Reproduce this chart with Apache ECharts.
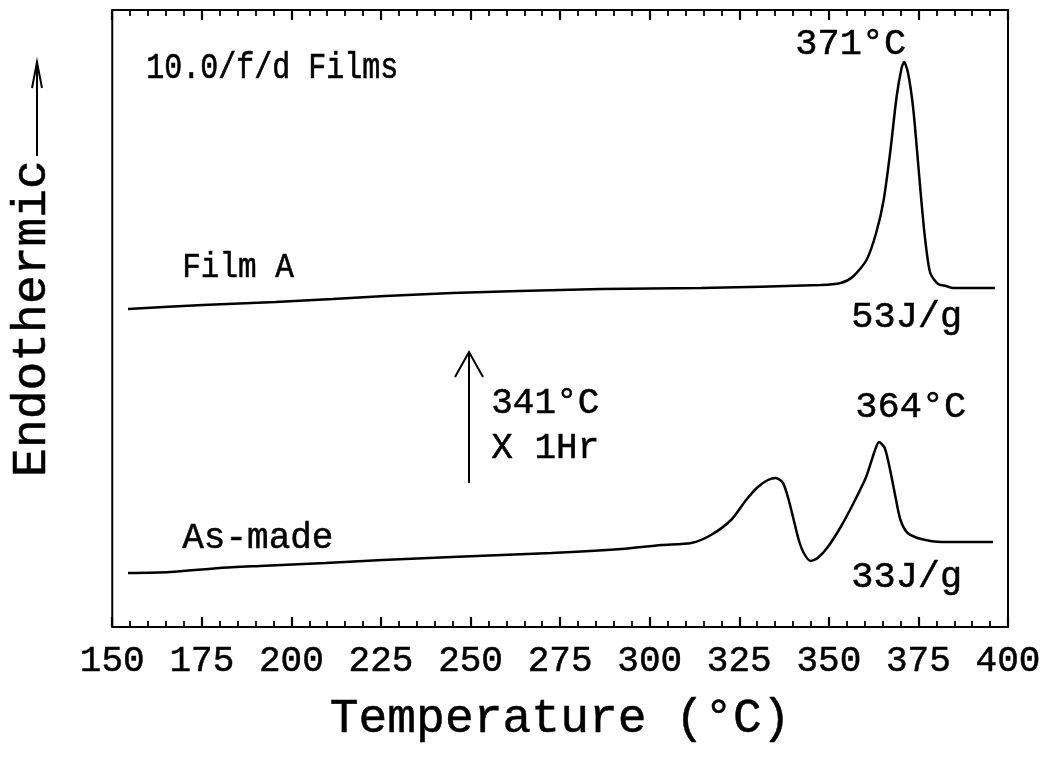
<!DOCTYPE html>
<html>
<head>
<meta charset="utf-8">
<style>
  html, body { margin: 0; padding: 0; background: #fff; }
  #chart { width: 1051px; height: 769px; }
</style>
<script src="https://cdn.jsdelivr.net/npm/echarts@6/dist/echarts.min.js"></script>
</head>
<body>
<div id="chart"></div>
<script>
// DSC traces, heat flow in arbitrary units (endothermic up)
const filmA_T = [154.4, 175.3, 195.6, 211.5, 226.2, 244.8, 263.5, 286.5, 314.3, 347.7, 353.3, 356.6,
  360.5, 363.2, 365.3, 367.2, 368.9, 370.3, 371.0, 372.1, 373.5, 374.6, 375.8, 376.9, 378.3,
  380.5, 382.7, 384.7, 388.3, 396.4];
const filmA_Q = [318, 322, 325, 328, 331, 334, 336, 338, 339, 342, 344, 350,
  367, 394, 427, 477, 530, 559, 565, 554, 520, 477, 427, 387, 354,
  343, 341, 339, 339, 339];

const asMade_T = [154.4, 166.1, 180.0, 191.2, 209.5, 225.4, 244.8, 272.6, 292.1, 303.2, 311.6,
  317.1, 322.7, 326.9, 330.2, 333.0, 335.2, 337.2, 338.8, 340.2, 341.6, 343.0, 344.9, 346.9,
  349.7, 353.3, 356.9, 360.4, 362.8, 364.0, 365.6, 367.1, 368.6, 370.0, 372.0, 375.8, 381.5, 395.8];
const asMade_Q = [54, 55, 59, 61, 64, 67, 70, 74, 78, 82, 84,
  92, 107, 127, 140, 147, 149, 144, 127, 107, 87, 74, 66, 69,
  80, 100, 124, 150, 176, 185, 179, 157, 130, 107, 94, 88, 85, 85];

const tempRange = [150, 400];
const tempStep = 25;
const xTitle = 'Temperature (°C)';
const yTitle = 'Endothermic';

const FONT = '"Liberation Mono", "DejaVu Sans Mono", monospace';

function pairs(xs, ys) { return xs.map((x, i) => [x, ys[i]]); }

const chart = echarts.init(document.getElementById('chart'), null, { renderer: 'canvas' });

// frame edge with inward major (every 25) and minor (every 5) ticks
const tickStyle = {
  axisLine: { show: true, onZero: false, lineStyle: { color: '#000', width: 2 } },
  axisTick: { show: true, inside: true, length: 10, lineStyle: { color: '#000', width: 2.2 } },
  minorTick: { show: true, splitNumber: 5, length: 6, lineStyle: { color: '#000', width: 1.8 } },
  splitLine: { show: false },
  minorSplitLine: { show: false }
};

// annotation text; sy stretches the glyphs vertically for a taller typewriter look
function txt(text, x, y, size, sy) {
  return {
    type: 'text', left: x, top: y, scaleY: sy || 1,
    style: {
      text: text, font: size + 'px ' + FONT, fill: '#000', textVerticalAlign: 'top',
      stroke: '#000', lineWidth: 0.5
    }
  };
}

chart.setOption({
  animation: false,
  backgroundColor: '#fff',
  grid: { left: 109, right: 43, top: 10, bottom: 142, containLabel: false },
  xAxis: [
    Object.assign({
      type: 'value', min: tempRange[0], max: tempRange[1], interval: tempStep,
      position: 'bottom',
      name: xTitle, nameLocation: 'middle', nameGap: 68,
      nameTextStyle: { fontFamily: FONT, fontSize: 48, color: '#000', textBorderColor: '#000', textBorderWidth: 0.5 },
      axisLabel: { show: true, margin: 16, fontFamily: FONT, fontSize: 36, color: '#000', textBorderColor: '#000', textBorderWidth: 0.5 }
    }, tickStyle),
    Object.assign({
      type: 'value', min: tempRange[0], max: tempRange[1], interval: tempStep,
      position: 'top', axisLabel: { show: false }
    }, tickStyle)
  ],
  yAxis: [
    {
      type: 'value', min: 0, max: 617, position: 'left',
      name: yTitle, nameLocation: 'middle', nameGap: 56, nameRotate: 90,
      nameTextStyle: { fontFamily: FONT, fontSize: 48, color: '#000', textBorderColor: '#000', textBorderWidth: 0.5 },
      axisLine: { show: true, onZero: false, lineStyle: { color: '#000', width: 2 } },
      axisTick: { show: false }, axisLabel: { show: false }, splitLine: { show: false }
    },
    {
      type: 'value', min: 0, max: 617, position: 'right',
      axisLine: { show: true, onZero: false, lineStyle: { color: '#000', width: 2 } },
      axisTick: { show: false }, axisLabel: { show: false }, splitLine: { show: false }
    }
  ],
  series: [
    {
      name: 'Film A', type: 'line', data: pairs(filmA_T, filmA_Q),
      smooth: 0.25, showSymbol: false, lineStyle: { color: '#000', width: 2.5 }
    },
    {
      name: 'As-made', type: 'line', data: pairs(asMade_T, asMade_Q),
      smooth: 0.25, showSymbol: false, lineStyle: { color: '#000', width: 2.5 }
    }
  ],
  graphic: [
    txt('10.0/f/d Films', 146, 49, 30, 1.25),
    txt('371°C', 795, 25, 37),
    txt('Film A', 182, 249, 31, 1.15),
    txt('53J/g', 851, 298, 37),
    txt('341°C', 491, 385, 36),
    txt('X 1Hr', 491, 430, 36),
    txt('364°C', 855, 388, 37),
    txt('33J/g', 851, 558, 37),
    txt('As-made', 182, 520, 36),
    // annealing arrow
    { type: 'line', shape: { x1: 469, y1: 483, x2: 469, y2: 352 }, style: { stroke: '#000', lineWidth: 2 } },
    { type: 'polyline', shape: { points: [[455, 377], [469, 352], [483, 377]] }, style: { stroke: '#000', lineWidth: 2, fill: null } },
    // endothermic direction arrow beside the y title
    { type: 'line', shape: { x1: 37, y1: 156, x2: 37, y2: 62 }, style: { stroke: '#000', lineWidth: 2 } },
    { type: 'polyline', shape: { points: [[32, 88], [37, 62], [42, 88]] }, style: { stroke: '#000', lineWidth: 2, fill: null } }
  ]
});
</script>
</body>
</html>
